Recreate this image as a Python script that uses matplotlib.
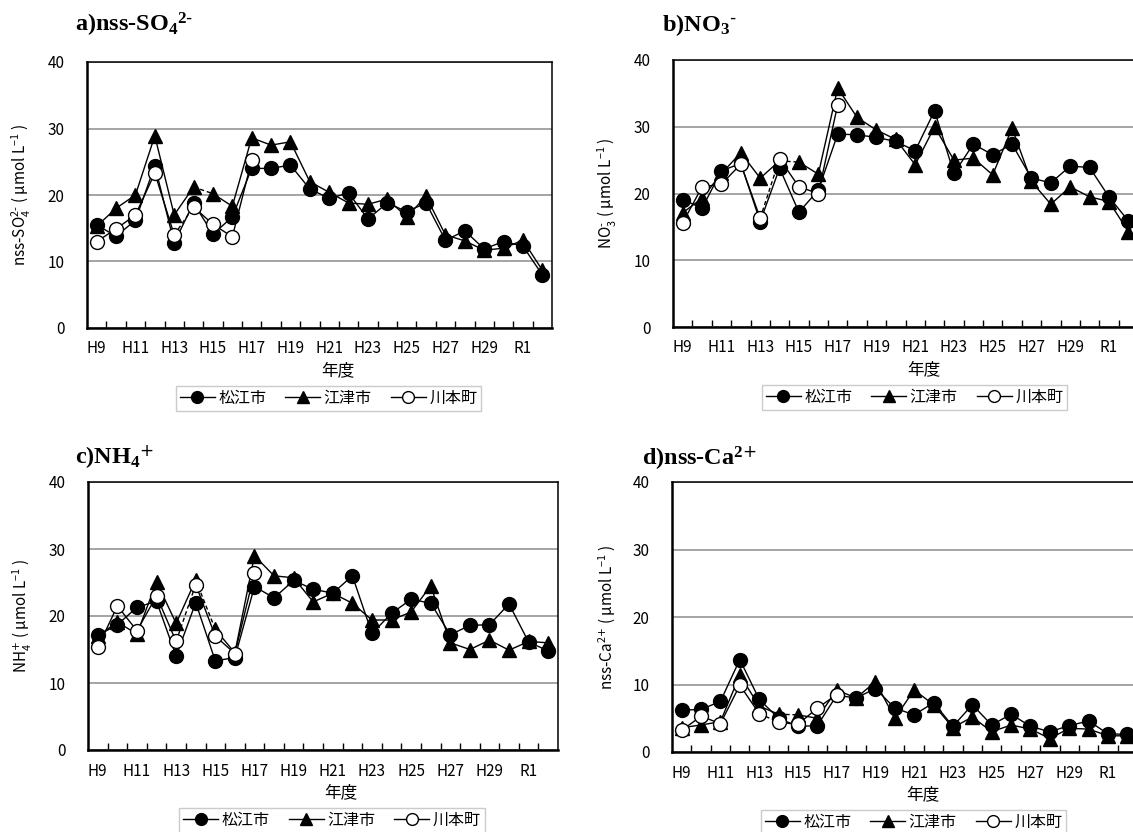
import matplotlib
matplotlib.use("Agg")
import matplotlib.pyplot as plt

plt.rcParams['font.family'] = ['Noto Sans CJK JP', 'DejaVu Sans']

YEARS = ["H9", "H10", "H11", "H12", "H13", "H14", "H15", "H16", "H17", "H18",
         "H19", "H20", "H21", "H22", "H23", "H24", "H25", "H26", "H27", "H28",
         "H29", "H30", "R1", "R2"]
SITES = ["松江市", "江津市", "川本町"]

# nss-SO4 2-
SO4_MATSUE = [15.5, 13.8, 16.2, 24.4, 12.8, 18.8, 14.1, 16.7, 24.0, 24.0, 24.5, 20.9,
              19.5, 20.3, 16.4, 18.8, 17.5, 18.8, 13.2, 14.6, 11.9, 13.0, 12.3, 8.0]
SO4_GOTSU = [15.3, 18.0, 20.0, 28.9, 17.0, 21.2, 20.2, 18.3, 28.6, 27.5, 28.0, 22.0,
             20.4, 18.8, 18.6, 19.4, 16.7, 19.8, 14.0, 13.1, 11.7, 12.0, 13.2, 8.7]
SO4_KAWAMOTO = [13.0, 14.9, 17.0, 23.3, 14.0, 18.2, 15.6, 13.7, 25.2]

# NO3-
NO3_MATSUE = [19.1, 17.8, 23.4, 24.5, 15.8, 23.8, 17.2, 20.5, 28.9, 28.8, 28.4, 27.8,
              26.4, 32.4, 23.0, 27.4, 25.8, 27.4, 22.3, 21.6, 24.1, 23.9, 19.5, 15.9]
NO3_GOTSU = [17.1, 19.3, 23.0, 26.1, 22.3, 24.9, 24.7, 22.9, 35.8, 31.4, 29.5, 28.1,
             24.3, 30.0, 25.0, 25.3, 22.8, 29.8, 21.8, 18.4, 21.0, 19.5, 18.8, 14.3]
NO3_KAWAMOTO = [15.6, 21.0, 21.4, 24.4, 16.3, 25.2, 21.0, 20.0, 33.3]

# NH4+
NH4_MATSUE = [17.1, 18.7, 21.3, 22.2, 14.0, 22.0, 13.3, 13.8, 24.4, 22.7, 25.3, 24.0,
              23.4, 26.0, 17.4, 20.4, 22.5, 21.9, 17.2, 18.6, 18.7, 21.8, 16.1, 14.8]
NH4_GOTSU = [17.0, 19.1, 17.3, 25.1, 18.9, 25.4, 18.0, 14.5, 29.0, 26.0, 25.7, 22.1,
             23.4, 21.9, 19.4, 19.4, 20.6, 24.5, 16.0, 15.0, 16.4, 14.9, 16.2, 16.0]
NH4_KAWAMOTO = [15.3, 21.5, 17.8, 23.0, 16.2, 24.7, 17.0, 14.4, 26.4]

# nss-Ca2+
CA_MATSUE = [6.2, 6.3, 7.5, 13.7, 7.8, 5.0, 3.8, 3.9, 8.4, 8.0, 9.4, 6.5,
             5.5, 7.3, 3.8, 7.0, 4.0, 5.6, 3.8, 3.0, 3.9, 4.6, 2.7, 2.6]
CA_GOTSU = [3.6, 4.0, 4.5, 11.4, 6.8, 5.6, 5.5, 5.0, 9.2, 8.0, 10.4, 5.0,
            9.2, 7.0, 3.6, 5.2, 3.0, 4.0, 3.4, 2.0, 3.5, 3.4, 2.4, 2.4]
CA_KAWAMOTO = [3.2, 5.3, 4.2, 9.9, 5.7, 4.4, 4.1, 6.5, 8.5]

# segment i -> i+1 drawn dashed for each site
DASHED = {"松江市": None, "江津市": 5, "川本町": 4}
MARKERS = {
    "松江市": dict(marker="o", mfc="black", mec="black", ms=10),
    "江津市": dict(marker="^", mfc="black", mec="black", ms=10),
    "川本町": dict(marker="o", mfc="white", mec="black", ms=10),
}

UNIT = " ( μmol L$\\mathregular{^{-1}}$ )"

# pixel layout: (left, right, top, bottom), title position
W, H = 1133, 832
PANELS = [
    ("a)nss-SO$\\mathregular{_4}$$\\mathregular{^{2\\text{-}}}$",
     "nss-SO$\\mathregular{_4^{2\\text{-}}}$" + UNIT,
     [SO4_MATSUE, SO4_GOTSU, SO4_KAWAMOTO], (87, 552, 62, 328), (75, 25)),
    ("b)NO$\\mathregular{_3}$$\\mathregular{^{\\text{-}}}$",
     "NO$\\mathregular{_3^{\\text{-}}}$" + UNIT,
     [NO3_MATSUE, NO3_GOTSU, NO3_KAWAMOTO], (673, 1138, 60, 327), (662, 25)),
    ("c)NH$\\mathregular{_4}$$\\mathregular{^{\\text{+}}}$",
     "NH$\\mathregular{_4^{\\text{+}}}$" + UNIT,
     [NH4_MATSUE, NH4_GOTSU, NH4_KAWAMOTO], (88, 558, 482, 750), (75, 457)),
    ("d)nss-Ca$\\mathregular{^{2\\text{+}}}$",
     "nss-Ca$\\mathregular{^{2\\text{+}}}$" + UNIT,
     [CA_MATSUE, CA_GOTSU, CA_KAWAMOTO], (672, 1137, 482, 752), (642, 458)),
]

fig = plt.figure(figsize=(W / 100, H / 100), dpi=100)

for title, ylabel, series, (l, r, t, b), (tx, ty) in PANELS:
    ax = fig.add_axes([l / W, 1 - b / H, (r - l) / W, (b - t) / H])
    handles = []
    for k, (site, vals) in enumerate(zip(SITES, series)):
        x = list(range(len(vals)))
        z = 3 + k
        d = DASHED[site]
        if d is None:
            h, = ax.plot(x, vals, color="black", lw=1.0, zorder=z, **MARKERS[site])
        else:
            h, = ax.plot(x[:d + 1], vals[:d + 1], color="black", lw=1.0, zorder=z, **MARKERS[site])
            ax.plot(x[d + 1:], vals[d + 1:], color="black", lw=1.0, zorder=z, **MARKERS[site])
            ax.plot(x[d:d + 2], vals[d:d + 2], color="black", lw=1.0, ls=(0, (3, 2)), zorder=z - 0.5)
        handles.append(h)

    ax.set_xlim(-0.5, len(YEARS) - 0.5)
    ax.set_ylim(0, 40)
    ax.set_yticks([0, 10, 20, 30, 40])
    ax.yaxis.grid(True, color="#8c8c8c", lw=1.1)
    ax.set_axisbelow(True)
    ax.set_xticks(range(0, len(YEARS), 2))
    ax.set_xticklabels(YEARS[::2])
    ax.set_xticks([i + 0.5 for i in range(len(YEARS) - 1)], minor=True)
    ax.tick_params(axis="x", which="major", length=0, pad=9, labelsize=11)
    ax.tick_params(axis="x", which="minor", direction="in", length=5, width=1, color="black")
    ax.tick_params(axis="y", length=0, pad=16, labelsize=11)
    for s in ["left", "bottom"]:
        ax.spines[s].set_linewidth(1.8)
    for s in ["top", "right"]:
        ax.spines[s].set_linewidth(1.1)

    ax.set_xlabel("年度", fontsize=12)
    ax.xaxis.set_label_coords(((l + r) / 2 + 18 - l) / (r - l), -34 / (b - t))
    ax.set_ylabel(ylabel, fontsize=11)
    ax.yaxis.set_label_coords(-54 / (r - l), 0.5)

    fig.text(tx / W, 1 - ty / H, title, fontsize=17.5, fontweight="bold",
             family=["Liberation Serif", "DejaVu Serif"], va="center", ha="left")

    leg = ax.legend(handles, SITES, loc="upper center", ncol=3,
                    bbox_to_anchor=(((l + r) / 2 + 9) / W, 1 - (b + 58) / H),
                    bbox_transform=fig.transFigure, borderaxespad=0,
                    fontsize=11.5, frameon=True, fancybox=False,
                    edgecolor="#bfbfbf", handlelength=2.2, handletextpad=0.2,
                    columnspacing=1.2, markerscale=0.85, borderpad=0.25)
    leg.get_frame().set_linewidth(1.0)

fig.savefig("out.png", dpi=100)
